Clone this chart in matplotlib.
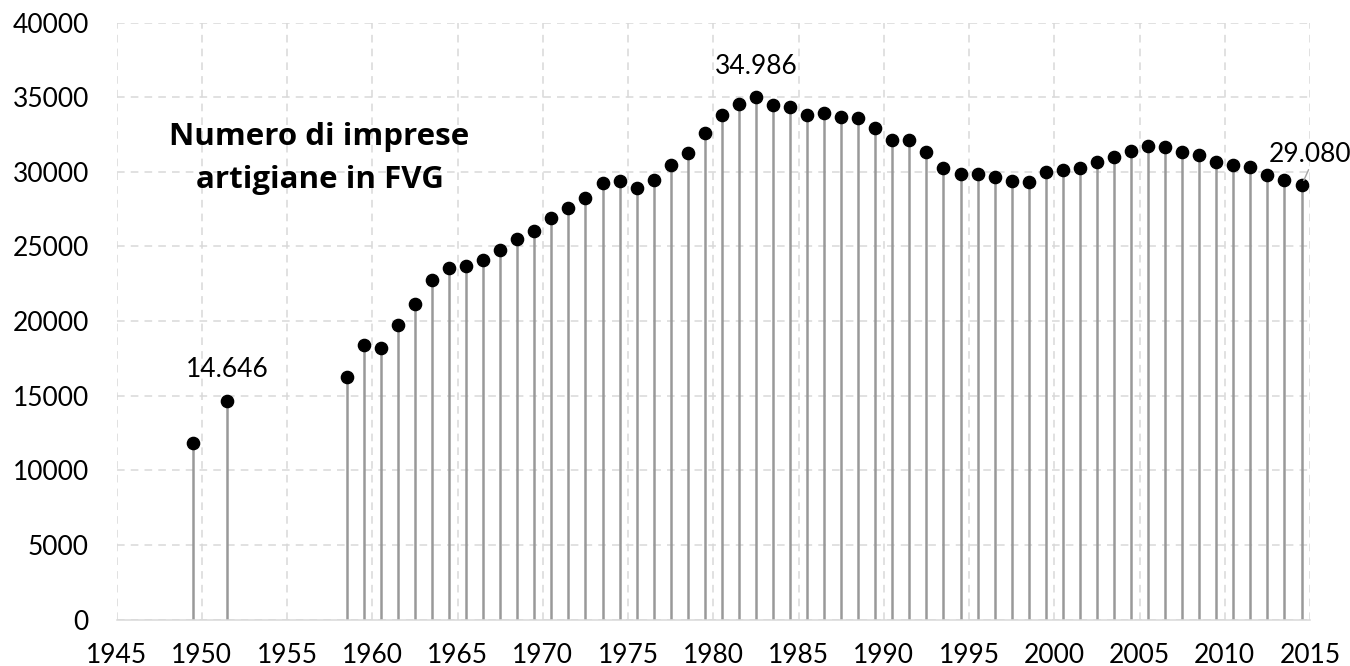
import matplotlib
matplotlib.use("Agg")
import matplotlib.pyplot as plt
import numpy as np

years = [1949, 1951] + list(range(1958, 2015))
values = [11820, 14646,
          16220, 18390, 18160, 19710, 21160, 22770, 23550, 23660, 24110, 24780,
          25470, 26010, 26910, 27580, 28250, 29230, 29360, 28920, 29480, 30460,
          31270, 32610, 33820, 34570, 34986, 34440, 34310, 33820, 33920, 33700,
          33590, 32940, 32160, 32110, 31310, 30240, 29860, 29830, 29680, 29410,
          29320, 29990, 30130, 30260, 30640, 31020, 31420, 31710, 31640, 31310,
          31090, 30640, 30440, 30350, 29770, 29460, 29080]
labelled = {1951: "14.646", 1982: "34.986", 2014: "29.080"}
title = "Numero di imprese\nartigiane in FVG"
xticks = list(range(1945, 2016, 5))
yticks = list(range(0, 40001, 5000))

plt.rcParams['font.family'] = ['Lato', 'DejaVu Sans']

fig = plt.figure(figsize=(13.5, 6.66), dpi=100)
ax = fig.add_axes([0.0864, 0.0698, 0.884, 0.8964])

x = np.array(years) + 0.5  # mid-year positions
v = np.array(values)

ax.vlines(x, 0, v, color='#999999', linewidth=1.8, zorder=2)
ax.plot(x, v, 'o', color='black', markersize=8.8, zorder=3)

ax.set_xlim(1945, 2015)
ax.set_ylim(0, 40000)
ax.set_xticks(xticks)
ax.set_yticks(yticks)
ax.grid(True, color='#d9d9d9', linestyle=(0, (5, 4)), linewidth=1.1, zorder=0)
for s in ['top', 'right', 'left']:
    ax.spines[s].set_visible(False)
ax.spines['bottom'].set_color('#d9d9d9')
ax.spines['bottom'].set_linewidth(1.1)
ax.tick_params(axis='both', length=0, labelsize=19, colors='black')
ax.tick_params(axis='x', pad=17)
ax.tick_params(axis='y', pad=20)

for yr, txt in labelled.items():
    val = values[years.index(yr)]
    if yr == 2014:
        ax.annotate(txt, xy=(yr + 0.5, val), xytext=(6, 17), textcoords='offset points',
                    ha='center', va='baseline', fontsize=19,
                    arrowprops=dict(arrowstyle='-', color='#a6a6a6', lw=1,
                                    shrinkA=0, shrinkB=4, relpos=(0.5, 0)))
    else:
        ax.annotate(txt, xy=(yr + 0.5, val), xytext=(0, 17), textcoords='offset points',
                    ha='center', va='baseline', fontsize=19)

ax.text(1956.9, 30900, title, ha='center', va='center', fontsize=22.5,
        fontweight='bold', family=['Open Sans', 'DejaVu Sans'], linespacing=1.55)

fig.savefig("out.png", dpi=100)
